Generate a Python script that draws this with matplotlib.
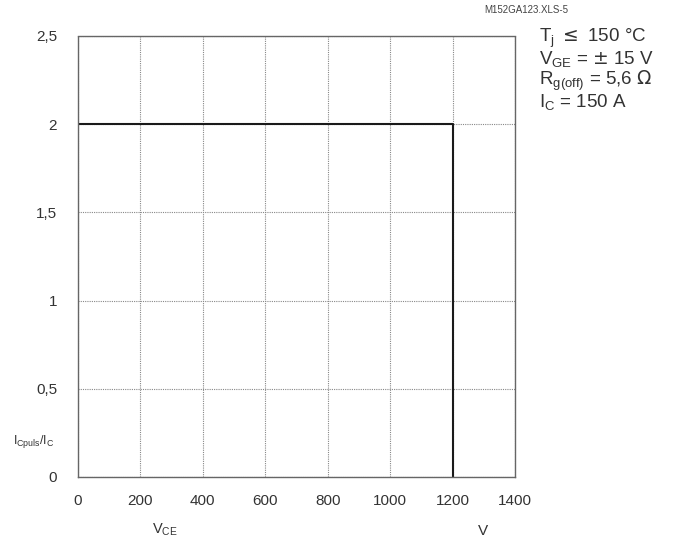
import matplotlib
matplotlib.use("Agg")
import matplotlib.pyplot as plt

# Data: RBSOA boundary
vce = [0, 1200, 1200]
icratio = [2, 2, 0]

xticks = [0, 200, 400, 600, 800, 1000, 1200, 1400]
yticks = [0, 0.5, 1, 1.5, 2, 2.5]
yticklabels = ["0", "0,5", "1", "1,5", "2", "2,5"]

plt.rcParams['font.family'] = ['Liberation Sans', 'DejaVu Sans']
fig = plt.figure(figsize=(6.95, 5.43), dpi=100)
ax = fig.add_axes([78/695, 1-477/543, (515-78)/695, (477-36)/543])

ax.plot(vce, icratio, color='#1a1a1a', lw=1.5, solid_capstyle='butt')
ax.set_xlim(0, 1400)
ax.set_ylim(0, 2.5)
ax.set_xticks(xticks)
ax.set_xticklabels([str(v) for v in xticks])
ax.set_yticks(yticks)
ax.set_yticklabels(yticklabels)
ax.grid(True, color='#888888', lw=0.8, ls=(0, (1, 1)))
for s in ax.spines.values():
    s.set_color('#666666')
    s.set_linewidth(1.0)
    s.set_linestyle((0, (1, 1)))
ax.tick_params(length=0, labelsize=11, colors='#333333', pad=12)
ax.tick_params(axis='y', pad=15)

fig.text(165/695, 1-530/543, r'V$_{\mathregular{CE}}$', fontsize=10.5, color='#333333', ha='center', va='center')
fig.text(483/695, 1-531/543, 'V', fontsize=11, color='#333333', ha='center', va='center')
fig.text(34/695, 1-441/543, r'I$_{\mathregular{Cpuls}}$/I$_{\mathregular{C}}$', fontsize=9, color='#333333', ha='center', va='center')
fig.text(568/695, 1-10/543, 'M152GA123.XLS-5', fontsize=7, color='#444444', ha='right', va='center')

ann = [r'T$_{\mathregular{j}}$$\leq$150 °C',
       r'V$_{\mathregular{GE}}$ = $\pm$ 15 V',
       r'R$_{\mathregular{g(off)}}$ = 5,6 $\Omega$',
       r'I$_{\mathregular{C}}$ = 150 A']
ann[0] = r'T$_{\mathregular{j}}$ $\leq$ 150 °C'
for i, t in enumerate(ann):
    fig.text(539/695, 1-(38 + i*21.5)/543, t, fontsize=13.5, color='#333333', ha='left', va='center')

fig.savefig('out.png', dpi=100)
